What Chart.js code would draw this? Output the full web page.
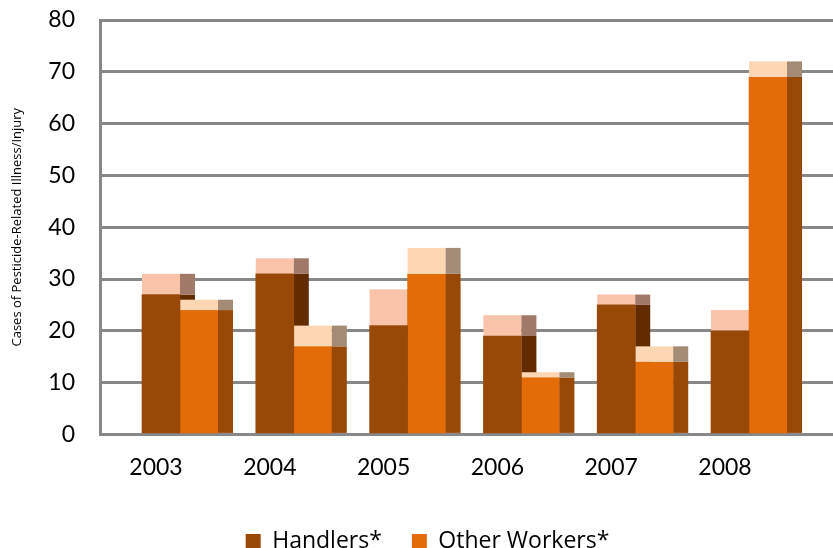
<!DOCTYPE html>
<html>
<head>
<meta charset="utf-8">
<script src="https://cdn.jsdelivr.net/npm/chart.js@4.4.1/dist/chart.umd.min.js"></script>
<style>
  html, body { margin: 0; padding: 0; background: #fff; overflow: hidden; }
  #wrap { width: 833px; height: 548px; overflow: hidden; }
</style>
</head>
<body>
<div id="wrap"><canvas id="chart" width="833" height="563"></canvas></div>
<script>
const years = ["2003", "2004", "2005", "2006", "2007", "2008"];
// front face tops and back (3D cap) tops
const handlers = [27, 31, 21, 19, 25, 20];
const handlersTop = [31, 34, 28, 23, 27, 24];
const otherWorkers = [24, 17, 31, 11, 14, 69];
const otherWorkersTop = [26, 21, 36, 12, 17, 72];
const yTicks = [0, 10, 20, 30, 40, 50, 60, 70, 80];

const sideWidth = 15;
const faces = [
  { top: handlersTop, side: "#632c00", capFront: "#f9c4aa", capSide: "#a17969" },
  { top: otherWorkersTop, side: "#984807", capFront: "#fdd6b4", capSide: "#a38b76" }
];

function drawFaces(chart, index) {
  var f = faces[index];
  var ctx = chart.ctx;
  var yScale = chart.scales.y;
  ctx.save();
  chart.getDatasetMeta(index).data.forEach(function (bar, i) {
    var p = bar.getProps(["x", "y", "base", "width"], true);
    var left = p.x - p.width / 2;
    var right = p.x + p.width / 2;
    var yTop = yScale.getPixelForValue(f.top[i]);
    ctx.fillStyle = f.side;
    ctx.fillRect(right, p.y, sideWidth, p.base - p.y);
    ctx.fillStyle = f.capFront;
    ctx.fillRect(left, yTop, p.width, p.y - yTop);
    ctx.fillStyle = f.capSide;
    ctx.fillRect(right, yTop, sideWidth, p.y - yTop);
  });
  ctx.restore();
}

// Other Workers is drawn first, handlers' side faces must sit behind it
const bar3d = {
  id: "bar3d",
  beforeDatasetDraw: function (chart, args) {
    if (args.index === 1) drawFaces(chart, 0);
  },
  afterDatasetDraw: function (chart, args) {
    if (args.index === 1) drawFaces(chart, 1);
  }
};

const tickFont = "Lato, 'Open Sans', sans-serif";
const textFont = "'Open Sans', sans-serif";

new Chart(document.getElementById("chart"), {
  type: "bar",
  data: {
    datasets: [
      {
        label: "Handlers*",
        data: handlers.map(function (v, i) { return { x: i, y: v }; }),
        backgroundColor: "#984807",
        barThickness: 38
      },
      {
        label: "Other Workers*",
        data: otherWorkers.map(function (v, i) { return { x: i, y: v }; }),
        backgroundColor: "#e36c09",
        barThickness: 38
      }
    ]
  },
  options: {
    responsive: false,
    animation: false,
    layout: { padding: { top: 0, right: 0, left: 22, bottom: 0 } },
    plugins: {
      tooltip: { enabled: false },
      legend: {
        position: "bottom",
        labels: {
          boxWidth: 15,
          boxHeight: 15,
          padding: 30,
          color: "#000",
          font: { family: textFont, size: 23 }
        }
      }
    },
    scales: {
      x: {
        type: "linear",
        offset: false,
        min: -0.703,
        max: 5.738,
        grid: { display: false, offset: false },
        border: { display: false },
        afterFit: function (s) { s.height += 8; },
        afterBuildTicks: function (s) {
          s.ticks = years.map(function (_, i) { return { value: i }; });
        },
        ticks: {
          callback: function (v) { return years[v]; },
          labelOffset: -24,
          padding: 11,
          autoSkip: false,
          maxRotation: 0,
          color: "#000",
          font: { family: tickFont, size: 23 }
        }
      },
      y: {
        min: 0,
        max: 80,
        afterFit: function (s) {
          s.width = 78;
          s.paddingTop = 20;
        },
        afterBuildTicks: function (s) {
          s.ticks = yTicks.map(function (v) { return { value: v }; });
        },
        grid: { color: "#888888", lineWidth: 3, drawTicks: false },
        border: { color: "#888888", width: 3 },
        ticks: {
          padding: 25,
          color: "#000",
          font: { family: tickFont, size: 23 }
        },
        title: {
          display: true,
          text: "Cases of Pesticide-Related Illness/Injury",
          color: "#000",
          padding: { top: -13, bottom: 0 },
          font: { family: textFont, size: 13 }
        }
      }
    }
  },
  plugins: [bar3d]
});
</script>
</body>
</html>
